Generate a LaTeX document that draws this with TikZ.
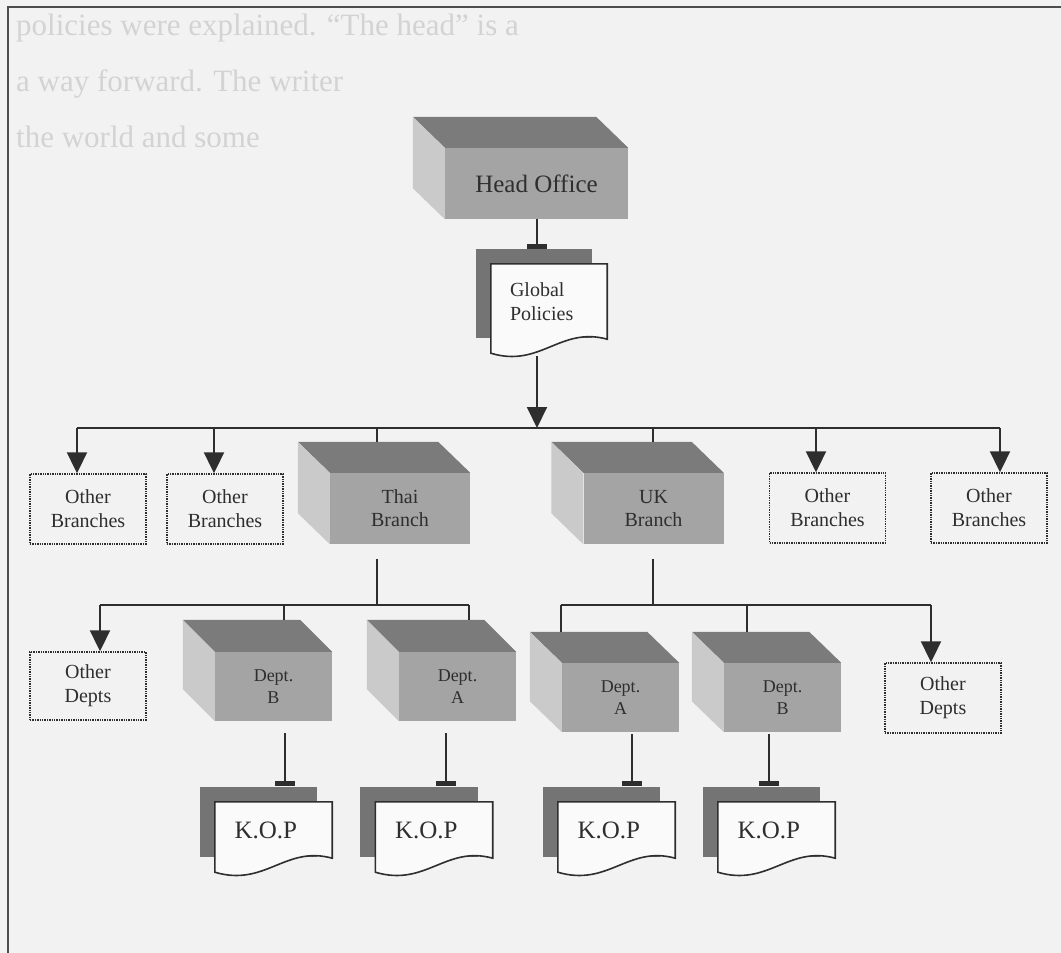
\documentclass[tikz,border=0pt]{standalone}
\usepackage{fontspec}
\setmainfont{Liberation Serif}
\usetikzlibrary{arrows.meta,calc}

\definecolor{paper}{HTML}{F2F2F2}
\definecolor{ink}{HTML}{2E2E2E}
\definecolor{ghost}{HTML}{D3D3D3}
\definecolor{cubetopc}{HTML}{7B7B7B}
\definecolor{cubefrontc}{HTML}{A4A4A4}
\definecolor{cubesidec}{HTML}{CACACA}
\definecolor{docshadowc}{HTML}{747474}
\definecolor{docpaperc}{HTML}{FAFAFA}

\pgfdeclarelayer{bg}
\pgfdeclarelayer{mid}
\pgfsetlayers{bg,mid,main}

% side and top faces of a box whose front face is node #1
\newcommand\boxfaces[3]{%
  \fill[cubetopc] (#1.north west) -- ([shift={(-#2,-#3)}]#1.north west)
    -- ([shift={(-#2,-#3)}]#1.north east) -- (#1.north east) -- cycle;
  \fill[cubesidec] (#1.north west) -- ([shift={(-#2,-#3)}]#1.north west)
    -- ([shift={(-#2,-#3)}]#1.south west) -- (#1.south west) -- cycle;}

% document sheet with wavy bottom and dark copy behind it, around node #1
\newcommand\docsheet[1]{%
  \begin{pgfonlayer}{mid}
  \fill[docshadowc] ([shift={(-15,-15)}]#1.north west) rectangle ([shift={(-15,-1)}]#1.south east);
  \filldraw[fill=docpaperc,draw=ink,line width=1.6pt] (#1.north west) -- (#1.north east) -- (#1.south east)
    .. controls ([shift={(-47,-13)}]#1.south east) and ([shift={(-67,29)}]#1.south east)
    .. ([shift={(0,14)}]#1.south west) -- cycle;
  \end{pgfonlayer}}

\tikzset{
  txt/.style={text=ink,inner sep=0pt,align=center},
  boxfront/.style={txt,fill=cubefrontc,minimum width=#1},
  branchbox/.style={boxfront=140pt,minimum height=71pt,font=\fontsize{20}{23}\selectfont},
  deptbox/.style={boxfront=117pt,minimum height=69pt,font=\fontsize{18}{22}\selectfont},
  otherbox/.style={txt,draw=ink,line width=1.4pt,dash pattern=on 1.4pt off 1pt,
    minimum width=116pt,minimum height=70pt,font=\fontsize{20}{24}\selectfont},
  sheet/.style={txt,align=left,minimum width=116pt,text width=78pt},
  link/.style={draw=ink,line width=2pt},
  arrowlink/.style={link,-{Triangle[width=20pt,length=21pt]}},
  barlink/.style={link,-{Rectangle[width=20pt,length=5pt]}},
}

\begin{document}
\begin{tikzpicture}[x=1pt,y=-1pt]
\useasboundingbox (0,0) rectangle (1061,953);
\begin{pgfonlayer}{bg}
  \fill[paper] (0,0) rectangle (1061,953);
  \begin{scope}[every node/.style={text=ghost,anchor=base west,inner sep=0pt,font=\fontsize{31}{36}\selectfont}]
    \node (g1) at (16,35) {policies were explained. “The head” is a};
    \node (g2) at (16,91) {a way forward. The writer};
    \node (g3) at (16,147) {the world and some};
  \end{scope}
\end{pgfonlayer}

% outer frame
\draw[draw=ink!85,line width=2pt] (8,953) -- (8,7) -- (1061,7);

% head office and the global policies sheet
\node[boxfront=183pt,minimum height=71pt,font=\fontsize{25}{30}\selectfont] (ho) at (536.5,183.5) {Head Office};
\boxfaces{ho}{32}{31}
\node[sheet,minimum height=75pt,font=\fontsize{20}{24}\selectfont] (gp) at (549,301.5) {Global\\Policies};
\docsheet{gp}

% branches
\node[otherbox] (ob1) at (88,509) {Other\\Branches};
\node[otherbox] (ob2) at (225,509) {Other\\Branches};
\node[otherbox] (ob3) at (827.5,508) {Other\\Branches};
\node[otherbox] (ob4) at (989,508) {Other\\Branches};
\node[branchbox] (thai) at (400,508.5) {Thai\\Branch};
\boxfaces{thai}{32}{31}
\node[branchbox] (uk) at (653.5,508.5) {UK\\Branch};
\boxfaces{uk}{32}{31}

% departments
\node[otherbox,minimum height=68pt] (od1) at (88,686) {Other\\Depts};
\node[deptbox] (tdb) at (273.5,686.5) {Dept.\\B};
\boxfaces{tdb}{32}{32}
\node[deptbox] (tda) at (457.5,686.5) {Dept.\\A};
\boxfaces{tda}{32}{32}
\node[deptbox] (uda) at (620.5,697.5) {Dept.\\A};
\boxfaces{uda}{32}{31}
\node[deptbox] (udb) at (782.5,697.5) {Dept.\\B};
\boxfaces{udb}{32}{31}
\node[otherbox] (od2) at (943,698) {Other\\Depts};

% K.O.P sheets
\begin{scope}[every node/.style={sheet,minimum width=117pt,minimum height=56pt,font=\fontsize{25}{30}\selectfont}]
  \node (k1) at (273.5,830) {K.O.P};
  \node (k2) at (434,830) {K.O.P};
  \node (k3) at (616.5,830) {K.O.P};
  \node (k4) at (776.5,830) {K.O.P};
\end{scope}
\docsheet{k1}\docsheet{k2}\docsheet{k3}\docsheet{k4}

% junction points
\coordinate (hub) at (537,428);
\coordinate (b1) at (77,428);
\coordinate (b2) at (214,428);
\coordinate (b3) at (816,428);
\coordinate (b4) at (1000,428);
\coordinate (bt) at (377,428);
\coordinate (bu) at (653,428);
\coordinate (st) at (377,605);
\coordinate (sd1) at (100,605);
\coordinate (sdB) at (284,605);
\coordinate (sdA) at (469,605);
\coordinate (su) at (653,605);
\coordinate (su1) at (561,605);
\coordinate (suB) at (747,605);
\coordinate (su2) at (931,605);
\coordinate (kx1) at (285,786);
\coordinate (kx2) at (446,786);
\coordinate (kx3) at (632,786);
\coordinate (kx4) at (769,786);

% head office to global policies, policies to branches
\draw[barlink] (ho.south) -- ($(ho.south |- gp.north)+(0,-15)$);
\draw[arrowlink] ($(hub |- gp.south)+(0,17)$) -- (hub);
\draw[link] (b1) -- (b4);
\draw[arrowlink] (b1) -- (b1 |- ob1.north);
\draw[arrowlink] (b2) -- (b2 |- ob2.north);
\draw[arrowlink] (b3) -- (b3 |- ob3.north);
\draw[arrowlink] (b4) -- (b4 |- ob4.north);
\draw[link] (bt) -- ($(bt |- thai.north)+(0,-31)$);
\draw[link] (bu) -- ($(bu |- uk.north)+(0,-31)$);

% thai branch to its departments
\draw[link] ($(bt |- thai.south)+(0,15)$) -- (st);
\draw[link] (sd1) -- (sdA);
\draw[arrowlink] (sd1) -- (sd1 |- od1.north);
\draw[link] (sdB) -- ($(sdB |- tdb.north)+(0,-32)$);
\draw[link] (sdA) -- ($(sdA |- tda.north)+(0,-32)$);

% uk branch to its departments
\draw[link] ($(bu |- uk.south)+(0,15)$) -- (su);
\draw[link] (su1) -- (su2);
\draw[link] (su1) -- ($(su1 |- uda.north)+(0,-31)$);
\draw[link] (suB) -- ($(suB |- udb.north)+(0,-31)$);
\draw[arrowlink] (su2) -- (su2 |- od2.north);

% departments to their K.O.P sheets
\draw[barlink] ($(kx1 |- tdb.south)+(0,12)$) -- (kx1);
\draw[barlink] ($(kx2 |- tda.south)+(0,12)$) -- (kx2);
\draw[barlink] ($(kx3 |- uda.south)+(0,2)$) -- (kx3);
\draw[barlink] ($(kx4 |- udb.south)+(0,2)$) -- (kx4);
\end{tikzpicture}
\end{document}
